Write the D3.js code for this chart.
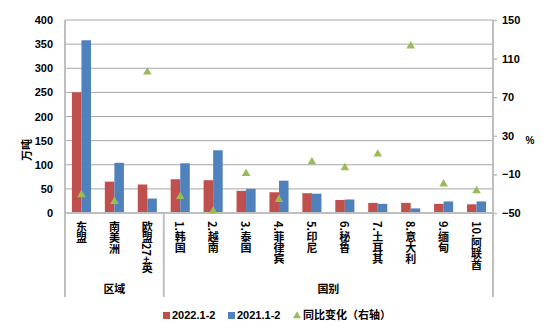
<!DOCTYPE html>
<html>
<head>
<meta charset="utf-8">
<script src="https://cdn.jsdelivr.net/npm/d3@7"></script>
<style>
  html, body { margin: 0; padding: 0; background: #fff; }
  svg text { font-family: "Liberation Sans", "Noto Sans CJK SC", sans-serif; font-weight: bold; fill: #000; }
  .cjk { font-family: "Noto Sans CJK SC", sans-serif; }
</style>
</head>
<body>
<svg id="chart" width="554" height="334"></svg>
<script>
// Categories: three regions followed by the top-10 countries
const categories = ["东盟", "南美洲", "欧盟27+英", "1.韩国", "2.越南", "3.泰国", "4.菲律宾", "5.印尼", "6.秘鲁", "7.土耳其", "8.意大利", "9.缅甸", "10.阿联酋"];
// Volume, 10k tonnes
const values2022 = [250, 65, 59, 70, 68, 46, 43, 41, 27, 21, 21, 19, 18];
const values2021 = [358, 104, 30, 103, 130, 50, 67, 40, 28, 19, 9.5, 24, 24];
// Year-on-year change, % (right axis)
const yoyChange = [-31, -38, 96, -33, -48, -9, -36, 3, -3, 11, 123, -20, -27];
const seriesNames = ["2022.1-2", "2021.1-2", "同比变化（右轴）"];
const leftTicks = [0, 50, 100, 150, 200, 250, 300, 350, 400];
const rightTicks = [-50, -10, 30, 70, 110, 150];
const groups = [{ name: "区域", from: 0, to: 2 }, { name: "国别", from: 3, to: 12 }];

const colors = { red: "#C0504D", blue: "#4F81BD", green: "#9BBB59", grid: "#a6a6a6", axis: "#bfbfbf" };

const svg = d3.select("#chart");
const plotLeft = 65, plotRight = 493, plotTop = 20, plotBottom = 213;

const x = d3.scaleBand().domain(categories).range([plotLeft, plotRight]).paddingInner(0.42).paddingOuter(0.21);
const xi = d3.scaleBand().domain([0, 1]).range([0, x.bandwidth()]);
const y = d3.scaleLinear().domain([0, 400]).range([plotBottom, plotTop]);
const y2 = d3.scaleLinear().domain([-50, 150]).range([plotBottom, plotTop]);

// Gridlines
svg.append("g").selectAll("line").data(leftTicks.filter(d => d > 0)).join("line")
  .attr("x1", plotLeft).attr("x2", plotRight)
  .attr("y1", d => y(d)).attr("y2", d => y(d))
  .attr("stroke", colors.grid).attr("stroke-width", 1);

// Left axis
const gl = svg.append("g").attr("transform", `translate(${plotLeft},0)`)
  .call(d3.axisLeft(y).tickValues(leftTicks).tickSize(0).tickPadding(12));
gl.select(".domain").remove();
gl.selectAll("text").attr("font-size", 11).style("font-weight", "bold");

// Right axis
const gr = svg.append("g").attr("transform", `translate(${plotRight},0)`)
  .call(d3.axisRight(y2).tickValues(rightTicks).tickSize(4).tickPadding(5));
gr.select(".domain").remove();
gr.selectAll("line").attr("stroke", colors.axis).attr("stroke-width", 1.5);
gr.selectAll("text").attr("font-size", 11).style("font-weight", "bold");

// Bars
const bars = svg.append("g");
categories.forEach((c, i) => {
  [values2022[i], values2021[i]].forEach((v, k) => {
    bars.append("rect")
      .attr("x", x(c) + xi(k)).attr("width", xi.bandwidth())
      .attr("y", y(v)).attr("height", y(0) - y(v))
      .attr("fill", k === 0 ? colors.red : colors.blue);
  });
});

// Axis lines and group separators
svg.append("line").attr("x1", plotLeft).attr("x2", plotRight).attr("y1", plotBottom).attr("y2", plotBottom)
  .attr("stroke", colors.axis).attr("stroke-width", 2);
const sepX = [plotLeft, x(categories[3]) - x.step() * x.paddingInner() / 2, plotRight];
svg.append("g").selectAll("line").data(sepX).join("line")
  .attr("x1", d => d).attr("x2", d => d)
  .attr("y1", (d, i) => i === 1 ? plotBottom : plotTop).attr("y2", 297)
  .attr("stroke", colors.axis).attr("stroke-width", 2);

// YoY triangles
const tri = d3.symbol().type(d3.symbolTriangle).size(32);
svg.append("g").selectAll("path").data(yoyChange).join("path")
  .attr("d", tri)
  .attr("transform", (d, i) => `translate(${x(categories[i]) + x.bandwidth() / 2},${y2(d)})`)
  .attr("fill", colors.green);

// Category labels (vertical)
svg.append("g").selectAll("text").data(categories).join("text")
  .attr("class", "cjk")
  .attr("x", d => x(d) + x.bandwidth() / 2)
  .attr("y", 221)
  .attr("font-size", 11)
  .style("writing-mode", "vertical-rl")
  .style("text-orientation", "mixed")
  .text(d => d);

// Group labels
svg.append("g").selectAll("text").data(groups).join("text")
  .attr("class", "cjk")
  .attr("x", d => (sepX[d.from === 0 ? 0 : 1] + sepX[d.from === 0 ? 1 : 2]) / 2)
  .attr("y", 293)
  .attr("text-anchor", "middle")
  .attr("font-size", 11)
  .text(d => d.name);

// Axis titles
svg.append("text").attr("class", "cjk")
  .attr("transform", "translate(31,150) rotate(-90)")
  .attr("text-anchor", "middle").attr("font-size", 11).text("万吨");
svg.append("text")
  .attr("x", 530).attr("y", 144)
  .attr("text-anchor", "middle").attr("font-size", 10).text("%");

// Legend
const lg = svg.append("g").attr("transform", "translate(0,315)");
lg.append("rect").attr("x", 163).attr("y", -3).attr("width", 7).attr("height", 7).attr("fill", colors.red);
lg.append("text").attr("x", 172).attr("y", 4).attr("font-size", 11).text(seriesNames[0]);
lg.append("rect").attr("x", 228).attr("y", -3).attr("width", 7).attr("height", 7).attr("fill", colors.blue);
lg.append("text").attr("x", 237).attr("y", 4).attr("font-size", 11).text(seriesNames[1]);
lg.append("path").attr("d", d3.symbol().type(d3.symbolTriangle).size(28))
  .attr("transform", "translate(297,1)").attr("fill", colors.green);
lg.append("text").attr("class", "cjk").attr("x", 303).attr("y", 4).attr("font-size", 11).text(seriesNames[2]);
</script>
</body>
</html>
